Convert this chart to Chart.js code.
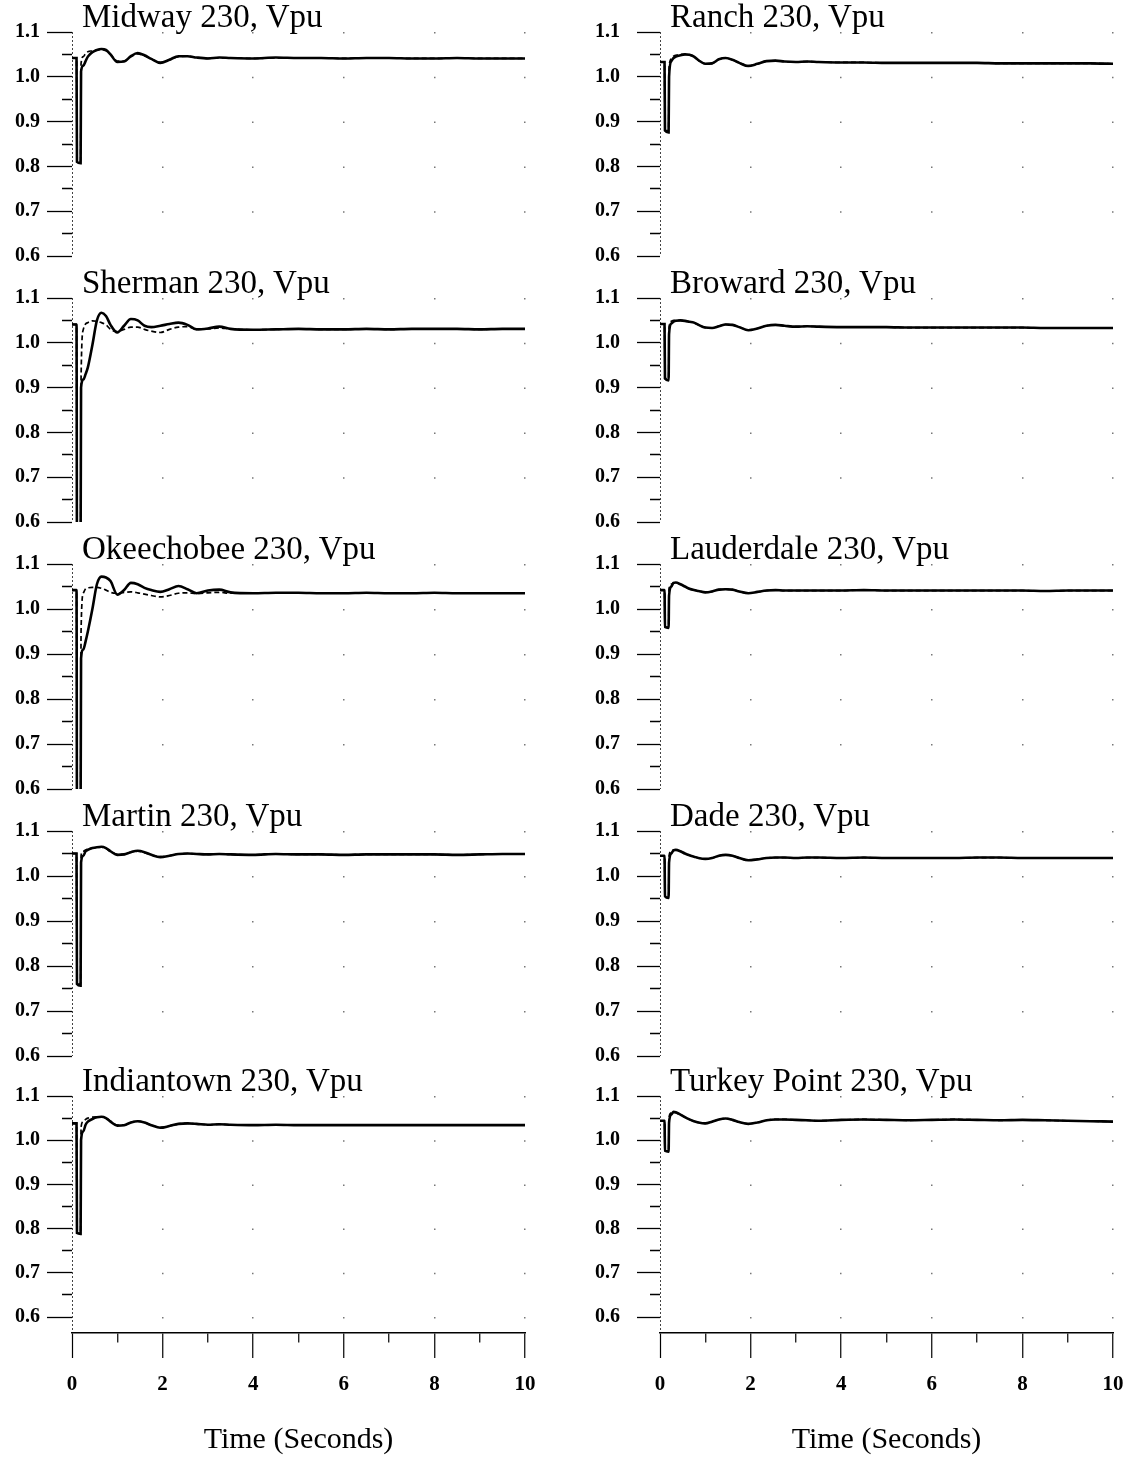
<!DOCTYPE html>
<html><head><meta charset="utf-8">
<script src="https://cdn.jsdelivr.net/npm/chart.js@4.4.1/dist/chart.umd.min.js"></script>
<style>
html,body{margin:0;padding:0;background:#fff;}
body{width:1128px;height:1460px;position:relative;overflow:hidden;font-family:"Liberation Serif",serif;}
.ptitle{position:absolute;font-family:"Liberation Serif",serif;font-size:33px;line-height:33px;color:#000;white-space:nowrap;z-index:2;}
canvas{position:absolute;}
</style></head><body>
<script>
// ---------- DATA ----------
const time = [0, 0.1, 0.11, 0.19, 0.2, 0.25, 0.3, 0.35, 0.45, 0.55, 0.65, 0.75, 0.85, 1.0, 1.15, 1.3, 1.45, 1.6, 1.75, 1.95, 2.15, 2.35, 2.55, 2.75, 3.0, 3.25, 3.5, 4.0, 4.5, 5.0, 5.5, 6.0, 6.5, 7.0, 7.5, 8.0, 8.5, 9.0, 9.5, 10];

const stationNames = ['Midway 230, Vpu','Sherman 230, Vpu','Okeechobee 230, Vpu','Martin 230, Vpu','Indiantown 230, Vpu',
                      'Ranch 230, Vpu','Broward 230, Vpu','Lauderdale 230, Vpu','Dade 230, Vpu','Turkey Point 230, Vpu'];

const midwaySolid = [1.042,1.042,0.81,0.807,1.012,1.025,1.035,1.045,1.055,1.06,1.062,1.06,1.05,1.033,1.034,1.046,1.053,1.048,1.04,1.031,1.038,1.046,1.046,1.043,1.041,1.043,1.042,1.041,1.043,1.042,1.042,1.041,1.042,1.042,1.041,1.041,1.042,1.041,1.041,1.041];
const midwayDashed = [1.042,1.042,0.81,0.81,1.03,1.045,1.052,1.056,1.058,1.06,1.061,1.058,1.05,1.035,1.035,1.045,1.051,1.047,1.04,1.032,1.038,1.045,1.046,1.043,1.041,1.042,1.042,1.041,1.042,1.042,1.042,1.041,1.042,1.042,1.041,1.041,1.042,1.041,1.041,1.041];

const shermanSolid = [1.041,1.041,0.55,0.55,0.90,0.918,0.93,0.945,0.995,1.05,1.067,1.06,1.04,1.023,1.038,1.053,1.05,1.038,1.035,1.038,1.042,1.045,1.04,1.03,1.032,1.036,1.031,1.029,1.03,1.031,1.03,1.03,1.031,1.03,1.031,1.031,1.031,1.03,1.031,1.031];
const shermanDashed = [1.041,1.041,0.55,0.55,0.92,1.03,1.042,1.045,1.049,1.048,1.045,1.04,1.03,1.025,1.03,1.035,1.035,1.03,1.026,1.023,1.03,1.035,1.036,1.03,1.031,1.033,1.031,1.029,1.03,1.031,1.03,1.03,1.031,1.03,1.031,1.031,1.031,1.03,1.031,1.031];

const okeechobeeSolid = [1.042,1.042,0.55,0.55,0.89,0.91,0.928,0.95,1.0,1.055,1.072,1.07,1.062,1.032,1.042,1.058,1.055,1.047,1.042,1.038,1.044,1.051,1.044,1.035,1.041,1.043,1.037,1.035,1.036,1.036,1.035,1.035,1.036,1.035,1.035,1.036,1.035,1.035,1.035,1.035];
const okeechobeeDashed = [1.042,1.042,0.55,0.55,0.95,1.035,1.045,1.047,1.048,1.048,1.046,1.042,1.037,1.035,1.037,1.038,1.036,1.033,1.03,1.027,1.03,1.035,1.036,1.034,1.036,1.037,1.035,1.035,1.036,1.036,1.035,1.035,1.036,1.035,1.035,1.036,1.035,1.035,1.035,1.035];

const martinSolid = [1.05,1.05,0.76,0.756,1.03,1.045,1.055,1.058,1.062,1.064,1.065,1.062,1.055,1.047,1.048,1.053,1.056,1.053,1.047,1.042,1.045,1.049,1.05,1.049,1.048,1.049,1.048,1.047,1.049,1.048,1.048,1.047,1.048,1.048,1.048,1.048,1.047,1.048,1.049,1.049];
const martinDashed = [1.05,1.05,0.76,0.76,1.045,1.055,1.058,1.06,1.062,1.063,1.064,1.061,1.055,1.048,1.048,1.053,1.055,1.052,1.047,1.043,1.045,1.049,1.05,1.049,1.048,1.049,1.048,1.047,1.049,1.048,1.048,1.047,1.048,1.048,1.048,1.048,1.047,1.048,1.049,1.049];

const indiantownSolid = [1.038,1.038,0.79,0.788,1.0,1.02,1.035,1.042,1.048,1.052,1.053,1.05,1.042,1.033,1.034,1.04,1.043,1.04,1.034,1.028,1.032,1.037,1.038,1.037,1.035,1.036,1.035,1.034,1.035,1.034,1.034,1.034,1.034,1.034,1.034,1.034,1.034,1.034,1.034,1.034];
const indiantownDashed = [1.038,1.038,0.79,0.79,1.03,1.042,1.047,1.05,1.052,1.053,1.053,1.05,1.043,1.034,1.034,1.04,1.043,1.04,1.034,1.029,1.032,1.037,1.038,1.037,1.035,1.036,1.035,1.034,1.035,1.034,1.034,1.034,1.034,1.034,1.034,1.034,1.034,1.034,1.034,1.034];

const ranchSolid = [1.033,1.033,0.88,0.876,1.0,1.035,1.042,1.045,1.048,1.05,1.049,1.045,1.037,1.029,1.03,1.039,1.042,1.038,1.031,1.024,1.029,1.035,1.036,1.034,1.033,1.034,1.033,1.032,1.032,1.031,1.031,1.031,1.031,1.031,1.03,1.03,1.03,1.03,1.03,1.029];
const ranchDashed = [1.033,1.033,0.88,0.88,1.02,1.04,1.046,1.048,1.05,1.05,1.049,1.045,1.037,1.029,1.03,1.039,1.042,1.038,1.031,1.025,1.029,1.035,1.036,1.034,1.033,1.034,1.033,1.032,1.032,1.031,1.031,1.031,1.031,1.031,1.03,1.03,1.03,1.03,1.03,1.029];

const browardSolid = [1.042,1.042,0.92,0.916,1.02,1.043,1.047,1.049,1.05,1.049,1.047,1.045,1.04,1.034,1.033,1.037,1.041,1.04,1.035,1.028,1.032,1.038,1.04,1.038,1.036,1.037,1.036,1.035,1.035,1.035,1.034,1.034,1.034,1.034,1.034,1.034,1.033,1.033,1.033,1.033];
const browardDashed = [1.042,1.042,0.92,0.92,1.035,1.048,1.05,1.05,1.05,1.049,1.047,1.045,1.04,1.034,1.033,1.037,1.041,1.04,1.035,1.029,1.032,1.038,1.04,1.038,1.036,1.037,1.036,1.035,1.035,1.035,1.034,1.034,1.034,1.034,1.034,1.034,1.033,1.033,1.033,1.033];

const lauderdaleSolid = [1.042,1.042,0.96,0.958,1.03,1.05,1.058,1.059,1.055,1.05,1.045,1.042,1.04,1.037,1.039,1.043,1.044,1.043,1.039,1.035,1.038,1.041,1.042,1.041,1.041,1.041,1.041,1.041,1.042,1.041,1.041,1.041,1.041,1.041,1.041,1.041,1.04,1.041,1.041,1.041];
const lauderdaleDashed = [1.042,1.042,0.96,0.96,1.045,1.055,1.058,1.058,1.055,1.05,1.045,1.042,1.04,1.037,1.039,1.043,1.044,1.043,1.039,1.035,1.038,1.041,1.042,1.041,1.041,1.041,1.041,1.041,1.042,1.041,1.041,1.041,1.041,1.041,1.041,1.041,1.04,1.041,1.041,1.041];

const dadeSolid = [1.045,1.045,0.955,0.951,1.03,1.05,1.057,1.058,1.055,1.05,1.046,1.043,1.04,1.038,1.04,1.045,1.047,1.045,1.04,1.035,1.037,1.04,1.041,1.041,1.04,1.041,1.041,1.04,1.041,1.04,1.04,1.04,1.04,1.041,1.041,1.04,1.04,1.04,1.04,1.04];
const dadeDashed = [1.045,1.045,0.955,0.955,1.045,1.055,1.058,1.058,1.055,1.05,1.046,1.043,1.04,1.038,1.04,1.045,1.047,1.045,1.04,1.035,1.037,1.04,1.041,1.041,1.04,1.041,1.041,1.04,1.041,1.04,1.04,1.04,1.04,1.041,1.041,1.04,1.04,1.04,1.04,1.04];

const turkeyPointSolid = [1.044,1.044,0.976,0.974,1.04,1.058,1.064,1.063,1.058,1.052,1.047,1.043,1.04,1.038,1.042,1.047,1.049,1.046,1.041,1.037,1.04,1.045,1.047,1.047,1.046,1.045,1.044,1.046,1.047,1.046,1.045,1.046,1.047,1.046,1.045,1.046,1.045,1.044,1.043,1.042];
const turkeyPointDashed = [1.044,1.044,0.976,0.976,1.052,1.062,1.064,1.062,1.058,1.052,1.047,1.043,1.04,1.038,1.042,1.047,1.049,1.046,1.041,1.037,1.04,1.045,1.047,1.047,1.046,1.045,1.044,1.046,1.047,1.046,1.045,1.046,1.047,1.046,1.045,1.046,1.045,1.044,1.043,1.042];

const yTickValues = [0.6, 0.65, 0.7, 0.75, 0.8, 0.85, 0.9, 0.95, 1.0, 1.05, 1.1];
const yTickLabels = ['0.6', '', '0.7', '', '0.8', '', '0.9', '', '1.0', '', '1.1'];
const xTickValues = [0, 1, 2, 3, 4, 5, 6, 7, 8, 9, 10];
const xTickLabels = ['0', '', '2', '', '4', '', '6', '', '8', '', '10'];
const xAxisTitle = 'Time (Seconds)';

const solidSeries = [midwaySolid, shermanSolid, okeechobeeSolid, martinSolid, indiantownSolid,
                     ranchSolid, browardSolid, lauderdaleSolid, dadeSolid, turkeyPointSolid];
const dashedSeries = [midwayDashed, shermanDashed, okeechobeeDashed, martinDashed, indiantownDashed,
                      ranchDashed, browardDashed, lauderdaleDashed, dadeDashed, turkeyPointDashed];

// ---------- LAYOUT ----------
const ROW_TOP = [32, 298, 564, 831, 1096];   // pixel of 1.1
const ROW_BOT = [256, 522, 789, 1056, 1317]; // pixel of 0.6
const COLS = [
  {left: 0,   width: 545, axisW: 72, plotRight: 525,  tickLen: 25, labelPad: 7},
  {left: 588, width: 540, axisW: 72, plotRight: 1113, tickLen: 23, labelPad: 17}
];
const AXIS_BOTTOM = 1333, PAGE_H = 1460, PAD = 14;

Chart.defaults.font.family = '"Liberation Serif", "Times New Roman", serif';
Chart.defaults.color = '#000';

const isMajorY = v => Math.round(v * 100) % 10 === 0;

function makePanel(idx) {
  const col = idx < 5 ? 0 : 1;
  const row = idx % 5;
  const c = COLS[col];
  const isBottom = row === 4;
  const top = ROW_TOP[row] - PAD;
  const height = isBottom ? PAGE_H - top : (ROW_BOT[row] - ROW_TOP[row] + 2 * PAD);
  const pxPerUnit = (ROW_BOT[row] - ROW_TOP[row]) / 0.5;
  const yMin = isBottom ? 0.6 - (AXIS_BOTTOM - ROW_BOT[row]) / pxPerUnit : 0.6;
  const dotGap = pxPerUnit * 0.1;

  const canvas = document.createElement('canvas');
  canvas.width = c.width; canvas.height = height;
  canvas.style.left = c.left + 'px'; canvas.style.top = top + 'px';
  canvas.style.width = c.width + 'px'; canvas.style.height = height + 'px';
  document.body.appendChild(canvas);

  const t = document.createElement('div');
  t.className = 'ptitle';
  t.textContent = stationNames[idx];
  t.style.left = (c.left + c.axisW + 10) + 'px';
  t.style.top = (ROW_TOP[row] - 32) + 'px';
  document.body.appendChild(t);

  const toPts = arr => time.map((x, i) => ({x: x, y: arr[i]}));

  new Chart(canvas, {
    type: 'line',
    data: {
      datasets: [
        {data: toPts(solidSeries[idx]), borderColor: '#000', borderWidth: 2.6, pointRadius: 0,
         cubicInterpolationMode: 'monotone', fill: false},
        {data: toPts(dashedSeries[idx]), borderColor: '#000', borderWidth: 1.7, borderDash: [5, 3], pointRadius: 0,
         cubicInterpolationMode: 'monotone', fill: false}
      ]
    },
    options: {
      responsive: false,
      animation: false,
      devicePixelRatio: 1,
      layout: {padding: {top: PAD, bottom: isBottom ? 0 : PAD, left: 0, right: c.width - (c.plotRight - c.left)}},
      plugins: {legend: {display: false}, tooltip: {enabled: false}, title: {display: false}},
      scales: {
        x: {
          type: 'linear', min: 0, max: 10,
          afterBuildTicks: s => { s.ticks = xTickValues.map(v => ({value: v})); },
          afterFit: s => { s.height = isBottom ? PAGE_H - AXIS_BOTTOM : 0; s.paddingLeft = 0; s.paddingRight = 0; },
          ticks: {
            display: isBottom, autoSkip: false, maxRotation: 0, padding: 14,
            font: {size: 21, weight: 'bold'},
            callback: (v, i) => xTickLabels[i]
          },
          grid: {
            drawOnChartArea: true,
            drawTicks: isBottom,
            tickLength: 25,
            lineWidth: ctx => (ctx.tick && ctx.tick.value === 0) ? 1 : 1.5,
            color: ctx => {
              if (!ctx.tick) return 'rgba(0,0,0,0)';
              if (ctx.tick.value === 0) return '#444';
              return ctx.tick.value % 2 === 0 ? '#777' : 'rgba(0,0,0,0)';
            },
            tickColor: '#000',
            tickWidth: 1.2,
            tickBorderDash: ctx => (ctx.tick && ctx.tick.value % 2 === 1) ? [9, 100] : []
          },
          border: {
            display: isBottom, color: '#000', width: 1.5,
            dash: ctx => (ctx.tick && ctx.tick.value === 0) ? [2, 2] : [1.5, dotGap - 1.5]
          },
          title: {display: isBottom, text: xAxisTitle, font: {size: 30}, padding: {top: 0, bottom: 2}}
        },
        y: {
          type: 'linear', min: yMin, max: 1.1,
          afterBuildTicks: s => { s.ticks = yTickValues.map(v => ({value: v})); },
          afterFit: s => { s.width = c.axisW; s.paddingTop = 0; s.paddingBottom = 0; },
          ticks: {
            padding: c.labelPad, autoSkip: false,
            font: {size: 20, weight: 'bold'},
            callback: (v, i) => yTickLabels[i]
          },
          grid: {
            drawOnChartArea: false,
            drawTicks: true,
            tickLength: c.tickLen,
            color: '#000',
            tickColor: '#000',
            tickWidth: 1.3,
            tickBorderDash: ctx => (ctx.tick && !isMajorY(ctx.tick.value)) ? [0, c.tickLen - 10, 10, 200] : []
          },
          border: {display: false}
        }
      }
    }
  });
}

for (let i = 0; i < 10; i++) makePanel(i);
</script>
</body></html>
